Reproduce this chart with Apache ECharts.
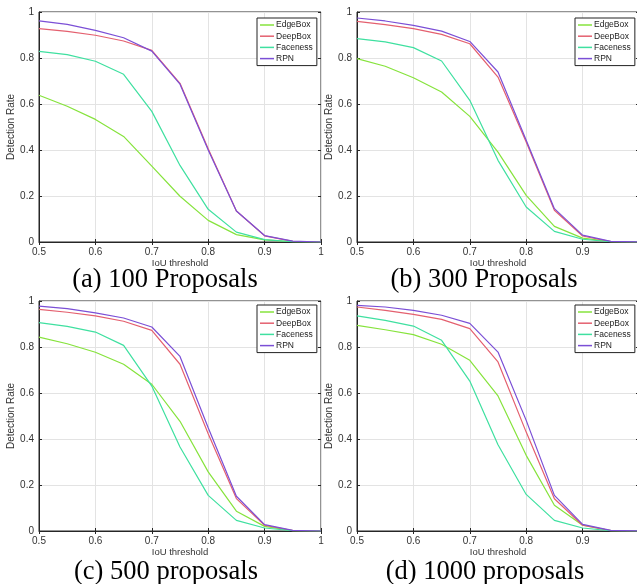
<!DOCTYPE html>
<html>
<head>
<meta charset="utf-8">
<script src="https://cdn.jsdelivr.net/npm/echarts@6/dist/echarts.min.js"></script>
<style>html,body{margin:0;padding:0;background:#fff;}#c{width:637px;height:584px;}</style>
</head>
<body>
<div id="c"></div>
<script>
const thresholds = [0.5, 0.55, 0.6, 0.65, 0.7, 0.75, 0.8, 0.85, 0.9, 0.95, 1.0];
const methods = ['EdgeBox', 'DeepBox', 'Faceness', 'RPN'];
const panelTitles = ['(a) 100 Proposals', '(b) 300 Proposals', '(c) 500 proposals', '(d) 1000 proposals'];

// Panel (a) 100 proposals
const edgeBox100  = [0.638, 0.590, 0.533, 0.459, 0.330, 0.199, 0.094, 0.032, 0.009, 0.001, 0];
const deepBox100  = [0.928, 0.916, 0.899, 0.874, 0.833, 0.690, 0.405, 0.135, 0.027, 0.003, 0];
const faceness100 = [0.829, 0.815, 0.786, 0.729, 0.568, 0.333, 0.142, 0.043, 0.010, 0.001, 0];
const rpn100      = [0.961, 0.946, 0.920, 0.888, 0.830, 0.686, 0.400, 0.135, 0.028, 0.004, 0];
// Panel (b) 300 proposals
const edgeBox300  = [0.797, 0.764, 0.714, 0.652, 0.546, 0.391, 0.203, 0.068, 0.017, 0.002, 0];
const deepBox300  = [0.959, 0.945, 0.928, 0.903, 0.862, 0.717, 0.435, 0.138, 0.026, 0.002, 0];
const faceness300 = [0.884, 0.870, 0.845, 0.787, 0.616, 0.355, 0.152, 0.046, 0.012, 0.001, 0];
const rpn300      = [0.974, 0.961, 0.942, 0.917, 0.872, 0.739, 0.442, 0.145, 0.030, 0.003, 0];
// Panel (c) 500 proposals
const edgeBox500  = [0.843, 0.814, 0.777, 0.725, 0.638, 0.477, 0.257, 0.086, 0.020, 0.002, 0];
const deepBox500  = [0.964, 0.951, 0.935, 0.912, 0.872, 0.725, 0.423, 0.141, 0.025, 0.002, 0];
const faceness500 = [0.906, 0.890, 0.865, 0.807, 0.630, 0.365, 0.155, 0.046, 0.013, 0.001, 0];
const rpn500      = [0.978, 0.967, 0.948, 0.926, 0.887, 0.759, 0.449, 0.151, 0.028, 0.003, 0];
// Panel (d) 1000 proposals
const edgeBox1000  = [0.894, 0.875, 0.854, 0.812, 0.742, 0.587, 0.329, 0.112, 0.025, 0.002, 0];
const deepBox1000  = [0.974, 0.959, 0.942, 0.920, 0.880, 0.735, 0.430, 0.140, 0.025, 0.002, 0];
const faceness1000 = [0.935, 0.916, 0.891, 0.829, 0.652, 0.375, 0.159, 0.046, 0.013, 0.001, 0];
const rpn1000      = [0.981, 0.974, 0.959, 0.938, 0.903, 0.778, 0.481, 0.155, 0.029, 0.003, 0];

const panels = [
  [edgeBox100, deepBox100, faceness100, rpn100],
  [edgeBox300, deepBox300, faceness300, rpn300],
  [edgeBox500, deepBox500, faceness500, rpn500],
  [edgeBox1000, deepBox1000, faceness1000, rpn1000]
];

const colors = ['#86e33c', '#e4606f', '#3fe0a0', '#7b4fd6'];
const font = 'Liberation Sans, Arial, sans-serif';
const gridPos = [
  {left: 39, top: 12}, {left: 357, top: 12},
  {left: 39, top: 301}, {left: 357, top: 301}
];
const gw = 282, gh = 230;
const titlePos = [[165, 280], [484, 280], [166, 572], [485, 572]];

const grid = [], xAxis = [], yAxis = [], series = [], legend = [], graphic = [];
gridPos.forEach((g, i) => {
  grid.push({left: g.left, top: g.top, width: gw, height: gh, show: true,
    outerBoundsMode: 'none', containLabel: false,
    borderColor: '#262626', borderWidth: 1, backgroundColor: 'transparent'});
  const tickStyle = {show: true, inside: true, length: 3, lineStyle: {color: '#262626', width: 1}};
  xAxis.push({type: 'value', gridIndex: i, min: 0.5, max: 1, interval: 0.1,
    name: 'IoU threshold', nameLocation: 'middle', nameGap: 14,
    nameTextStyle: {fontFamily: font, fontSize: 9.5, color: '#333'},
    axisLine: {show: true, lineStyle: {color: '#262626', width: 1}},
    axisTick: tickStyle,
    axisLabel: {fontFamily: font, fontSize: 10, color: '#333', margin: 5},
    splitLine: {show: true, lineStyle: {color: '#e3e3e3', width: 1}}});
  xAxis.push({type: 'value', gridIndex: i, position: 'top', min: 0.5, max: 1, interval: 0.1,
    axisLine: {show: false}, axisTick: tickStyle, axisLabel: {show: false}, splitLine: {show: false}});
  yAxis.push({type: 'value', gridIndex: i, min: 0, max: 1, interval: 0.2,
    name: 'Detection Rate', nameLocation: 'middle', nameGap: 19,
    nameTextStyle: {fontFamily: font, fontSize: 10, color: '#333'},
    axisLine: {show: true, lineStyle: {color: '#262626', width: 1}},
    axisTick: tickStyle,
    axisLabel: {fontFamily: font, fontSize: 10, color: '#333', margin: 5},
    splitLine: {show: true, lineStyle: {color: '#e3e3e3', width: 1}}});
  yAxis.push({type: 'value', gridIndex: i, position: 'right', min: 0, max: 1, interval: 0.2,
    axisLine: {show: false}, axisTick: tickStyle, axisLabel: {show: false}, splitLine: {show: false}});
  const names = [];
  panels[i].forEach((vals, k) => {
    const nm = methods[k] + '_' + i;
    names.push(nm);
    series.push({type: 'line', name: nm, xAxisIndex: 2 * i, yAxisIndex: 2 * i,
      data: thresholds.map((t, j) => [t, vals[j]]),
      symbol: 'none', color: colors[k], lineStyle: {width: 1.2, color: colors[k]},
      z: 2 + k, animation: false});
  });
  legend.push({data: names.map((n, k) => ({name: n, icon: 'rect', itemStyle: {color: colors[k]}})),
    orient: 'vertical', left: g.left + 218, top: g.top + (i < 2 ? 6 : 4),
    itemWidth: 14, itemHeight: 1.5, itemGap: 1.2,
    padding: [2, 4, 2, 3], borderColor: '#222', borderWidth: 1, backgroundColor: '#fff',
    selectedMode: false,
    formatter: n => n.split('_')[0],
    textStyle: {fontFamily: font, fontSize: 8.5, color: '#222', lineHeight: 10, padding: [0, 0, 0, -3]}});
  graphic.push({type: 'text', x: titlePos[i][0], y: titlePos[i][1], z: 100,
    style: {text: panelTitles[i], textAlign: 'center', textVerticalAlign: 'middle',
      fontFamily: 'Liberation Serif, Times New Roman, serif', fontSize: 26.5, fill: '#000'}});
});

const chart = echarts.init(document.getElementById('c'), null, {renderer: 'canvas'});
chart.setOption({animation: false, backgroundColor: '#fff', grid, xAxis, yAxis, series, legend, graphic});
</script>
</body>
</html>
